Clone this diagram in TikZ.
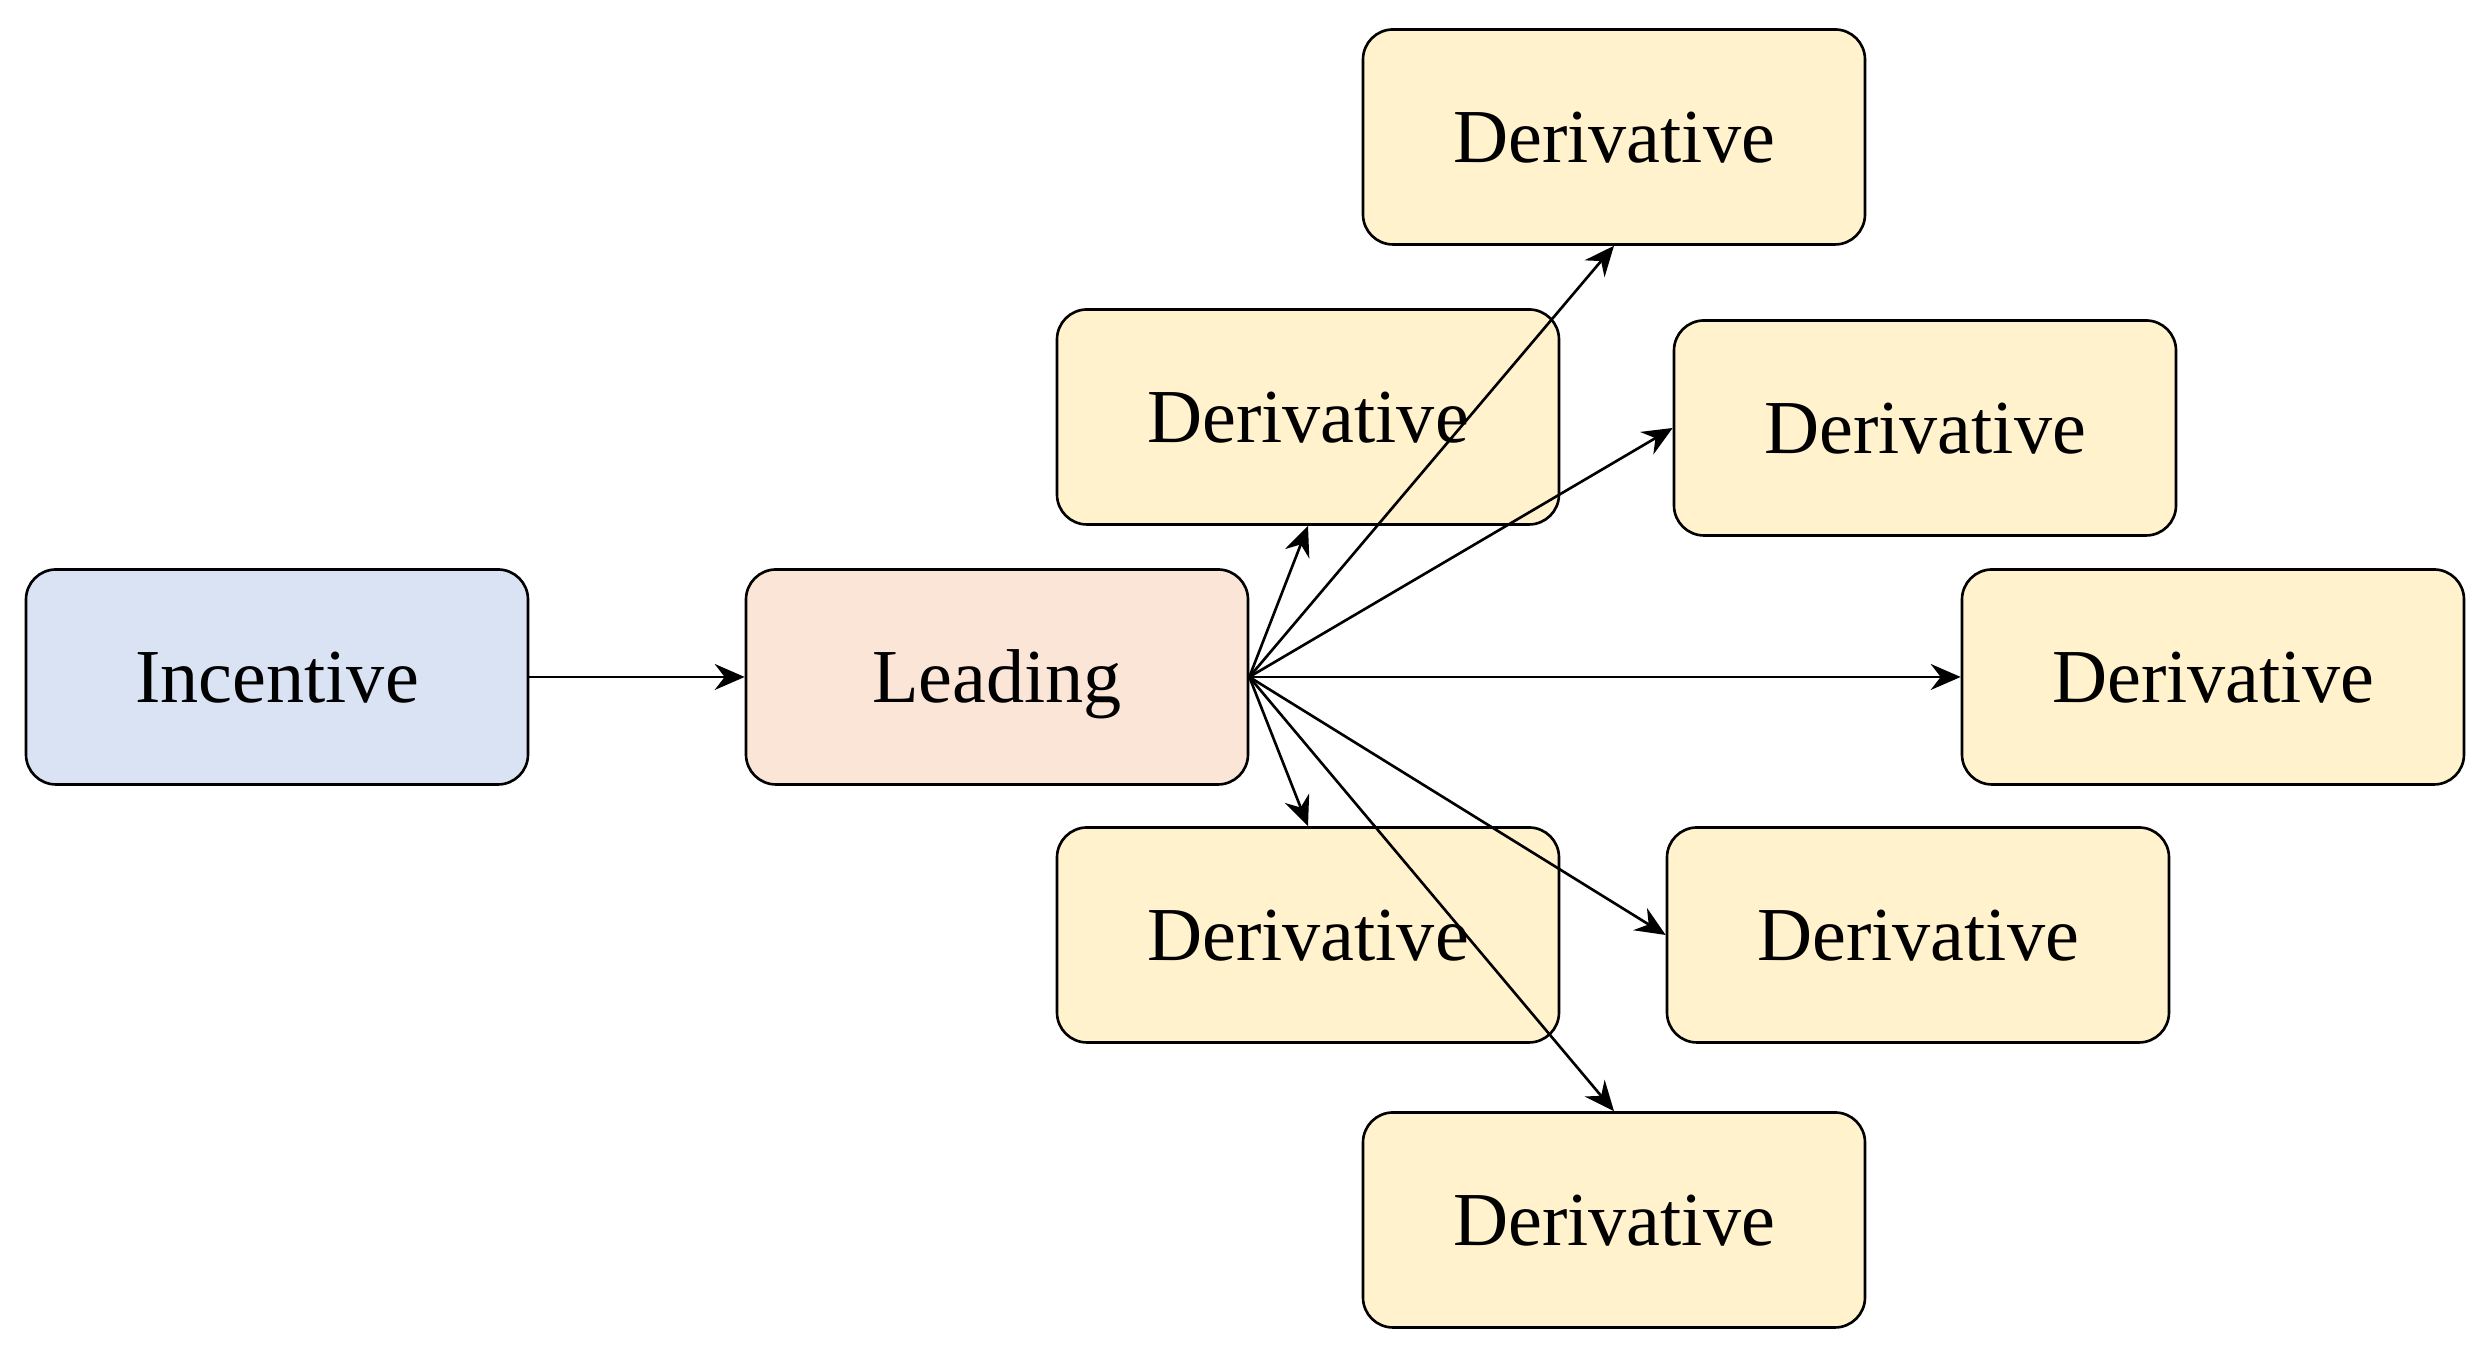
\documentclass[tikz,border=0pt]{standalone}
\usepackage{fontspec}
\setmainfont{Liberation Serif}
\usetikzlibrary{arrows.meta}
\definecolor{incblue}{HTML}{DAE3F3}
\definecolor{leadpeach}{HTML}{FBE5D6}
\definecolor{derivyellow}{HTML}{FFF2CC}

\begin{document}
\begin{tikzpicture}[->,>={Stealth[length=3mm,width=2.6mm,inset=1mm]},line width=0.75pt,
   box/.style={draw,rounded corners=3mm,minimum width=5.02cm,minimum height=2.15cm,
     font=\fontsize{21.7}{26}\selectfont,text height=14.8pt,text depth=0.3pt,line width=0.75pt},
   incbox/.style={box,fill=incblue},
   leadbox/.style={box,fill=leadpeach},
   derbox/.style={box,fill=derivyellow}]
  \useasboundingbox (0,0) rectangle (24.84,13.58);
  \node[incbox]  (inc)  at (2.77,6.81)  {Incentive};
  \node[leadbox] (lead) at (9.97,6.81)  {Leading};
  \node[derbox]  (dtop) at (16.14,12.21) {Derivative};
  \node[derbox]  (dul)  at (13.08,9.41) {Derivative};
  \node[derbox]  (dur)  at (19.25,9.30) {Derivative};
  \node[derbox]  (dr)   at (22.13,6.81) {Derivative};
  \node[derbox]  (dll)  at (13.08,4.23) {Derivative};
  \node[derbox]  (dlr)  at (19.18,4.23) {Derivative};
  \node[derbox]  (dbot) at (16.14,1.38) {Derivative};
  \draw (inc) -- (lead);
  \draw (lead.east) -- (dtop.south);
  \draw (lead.east) -- (dul.south);
  \draw (lead.east) -- (dur.west);
  \draw (lead.east) -- (dr.west);
  \draw (lead.east) -- (dlr.west);
  \draw (lead.east) -- (dll.north);
  \draw (lead.east) -- (dbot.north);
\end{tikzpicture}
\end{document}
